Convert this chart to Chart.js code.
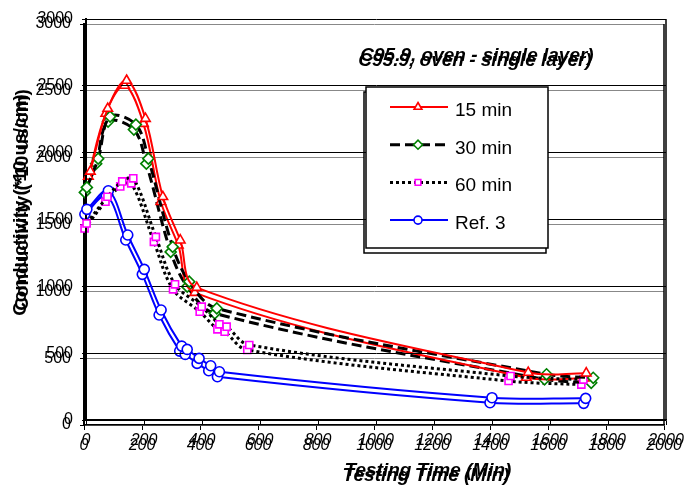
<!DOCTYPE html>
<html>
<head>
<meta charset="utf-8">
<script src="https://cdn.jsdelivr.net/npm/chart.js@4.4.1/dist/chart.umd.min.js"></script>
<style>
  body { margin: 0; background: #fff; }
  #wrap { position: relative; width: 692px; height: 491px; overflow: hidden; }
  #wrap canvas { position: absolute; }
  /* the reference is a doubled print: a second copy sits a few px lower */
  #ghost { left: -2px; top: 5px; }
  #main { left: 0; top: 0; }
</style>
</head>
<body>
<div id="wrap">
  <canvas id="ghost" width="692" height="491"></canvas>
  <canvas id="main" width="692" height="491"></canvas>
</div>
<script>
// C95.9 oven, single layer - conductivity vs testing time

const chartTitle = 'C95.9, oven - single layer)';
const xTitle = 'Testing Time (Min)';
const yTitle = 'Conductivity (*10 us/cm)';

const seriesNames = ['15 min', '30 min', '60 min', 'Ref. 3'];

const time15 = [15, 75, 140, 205, 265, 325, 382, 1525, 1725];
const cond15 = [1860, 2330, 2540, 2255, 1670, 1345, 990, 355, 350];

const time30 = [3, 42, 83, 172, 215, 299, 356, 451, 1588, 1749];
const cond30 = [1740, 1955, 2270, 2210, 1955, 1295, 1035, 835, 342, 316];

const time60 = [2, 74, 125, 163, 241, 307, 399, 460, 485, 563, 1464, 1715];
const cond60 = [1470, 1670, 1785, 1808, 1370, 1015, 848, 716, 698, 561, 329, 302];

const timeRef = [3, 77, 144, 201, 259, 330, 349, 390, 430, 460, 1400, 1723];
const condRef = [1576, 1715, 1384, 1127, 823, 553, 528, 461, 406, 361, 167, 162];

const xTicks = { min: 0, max: 2000, step: 200 };
const yTicks = { min: 0, max: 3000, step: 500 };

const FONT = '"Liberation Sans", Arial, sans-serif';

const styles = [
    { line: '#ff0000', mark: '#ff0000', dash: [], width: 2, point: 'triangle', r: 5.5 },
    { line: '#000000', mark: '#008000', dash: [10, 5], width: 3, point: 'rectRot', r: 5.5 },
    { line: '#000000', mark: '#ff00ff', dash: [3, 3], width: 3, point: 'rect', r: 5 },
    { line: '#0000ff', mark: '#0000ff', dash: [], width: 2, point: 'circle', r: 5 }
];

function toPoints(xs, ys) {
    return xs.map((x, i) => ({ x: x, y: ys[i] }));
}

function buildDatasets() {
    const sets = [toPoints(time15, cond15), toPoints(time30, cond30), toPoints(time60, cond60), toPoints(timeRef, condRef)];
    return sets.map((data, i) => {
        const s = styles[i];
        return {
            label: seriesNames[i],
            data: data,
            borderColor: s.line,
            borderWidth: s.width,
            borderDash: s.dash,
            tension: 0.35,
            clip: false,
            pointStyle: s.point,
            pointRadius: s.r,
            pointBorderWidth: 1.6,
            pointBorderColor: s.mark,
            pointBackgroundColor: '#ffffff'
        };
    });
}

function drawMarker(ctx, style, radius, x, y, color) {
    ctx.save();
    ctx.setLineDash([]);
    ctx.lineWidth = 1.6;
    ctx.strokeStyle = color;
    ctx.fillStyle = '#ffffff';
    if (Chart.helpers && Chart.helpers.drawPoint) {
        Chart.helpers.drawPoint(ctx, { pointStyle: style, radius: radius, borderWidth: 1.6, rotation: 0 }, x, y);
    } else {
        ctx.beginPath();
        ctx.arc(x, y, radius, 0, Math.PI * 2);
        ctx.fill();
        ctx.stroke();
    }
    ctx.restore();
}

const decorPlugin = {
    id: 'decor',
    afterDraw(chart) {
        const ctx = chart.ctx;
        const area = chart.chartArea;
        ctx.save();

        // right edge of plot box
        ctx.strokeStyle = '#000';
        ctx.lineWidth = 1.5;
        ctx.beginPath();
        ctx.moveTo(area.right, area.top);
        ctx.lineTo(area.right, area.bottom);
        ctx.stroke();

        // titles
        ctx.fillStyle = '#000';
        ctx.textAlign = 'center';
        ctx.textBaseline = 'middle';
        ctx.font = 'italic bold 19px ' + FONT;
        ctx.fillText(chartTitle, 477, 56);
        ctx.fillText(xTitle, 428, 471);

        ctx.save();
        ctx.translate(23, 200);
        ctx.rotate(-Math.PI / 2);
        ctx.font = 'bold 19px ' + FONT;
        ctx.fillText(yTitle, 0, 0);
        ctx.restore();

        // legend box
        ctx.fillStyle = '#ffffff';
        ctx.fillRect(366, 87, 182, 161);
        ctx.strokeStyle = '#000';
        ctx.lineWidth = 1.5;
        ctx.strokeRect(366, 87, 182, 161);

        ctx.textAlign = 'left';
        ctx.textBaseline = 'alphabetic';
        ctx.font = '19px ' + FONT;
        styles.forEach((s, i) => {
            const y = 107 + i * 37.7;
            ctx.save();
            ctx.strokeStyle = s.line;
            ctx.lineWidth = s.width;
            ctx.setLineDash(s.dash);
            ctx.beginPath();
            ctx.moveTo(390, y);
            ctx.lineTo(448, y);
            ctx.stroke();
            ctx.restore();
            drawMarker(ctx, s.point, s.r - 1, 418, y, s.mark);
            ctx.fillStyle = '#000';
            ctx.fillText(seriesNames[i], 455, y + 9);
        });

        ctx.restore();
    }
};

function plainNumber(value) {
    return String(value);
}

function buildOptions(gridColor) {
    return {
        responsive: false,
        animation: false,
        devicePixelRatio: 1,
        layout: { padding: { top: 19, right: 26, left: 0, bottom: 0 } },
        plugins: { legend: { display: false }, tooltip: { enabled: false } },
        scales: {
            x: {
                type: 'linear',
                min: xTicks.min,
                max: xTicks.max,
                afterFit(scale) { scale.height = 71; },
                ticks: {
                    stepSize: xTicks.step, autoSkip: false, maxRotation: 0,
                    color: '#000', padding: 6, callback: plainNumber,
                    font: { family: FONT, size: 16, style: 'italic' }
                },
                grid: { drawOnChartArea: false, drawTicks: true, tickLength: 5, color: '#000', lineWidth: 1 },
                border: { color: '#000', width: 1.5 }
            },
            y: {
                min: yTicks.min,
                max: yTicks.max,
                afterFit(scale) { scale.width = 86; },
                ticks: {
                    stepSize: yTicks.step, color: '#000', padding: 9, callback: plainNumber,
                    font: { family: FONT, size: 16 }
                },
                grid: { color: gridColor, lineWidth: 1, tickLength: 4, tickColor: '#000' },
                border: { color: '#000', width: 2 }
            }
        }
    };
}

function makeChart(id, gridColor) {
    return new Chart(document.getElementById(id), {
        type: 'line',
        data: { datasets: buildDatasets() },
        options: buildOptions(gridColor),
        plugins: [decorPlugin]
    });
}

makeChart('ghost', '#888888');
makeChart('main', '#000000');
</script>
</body>
</html>
